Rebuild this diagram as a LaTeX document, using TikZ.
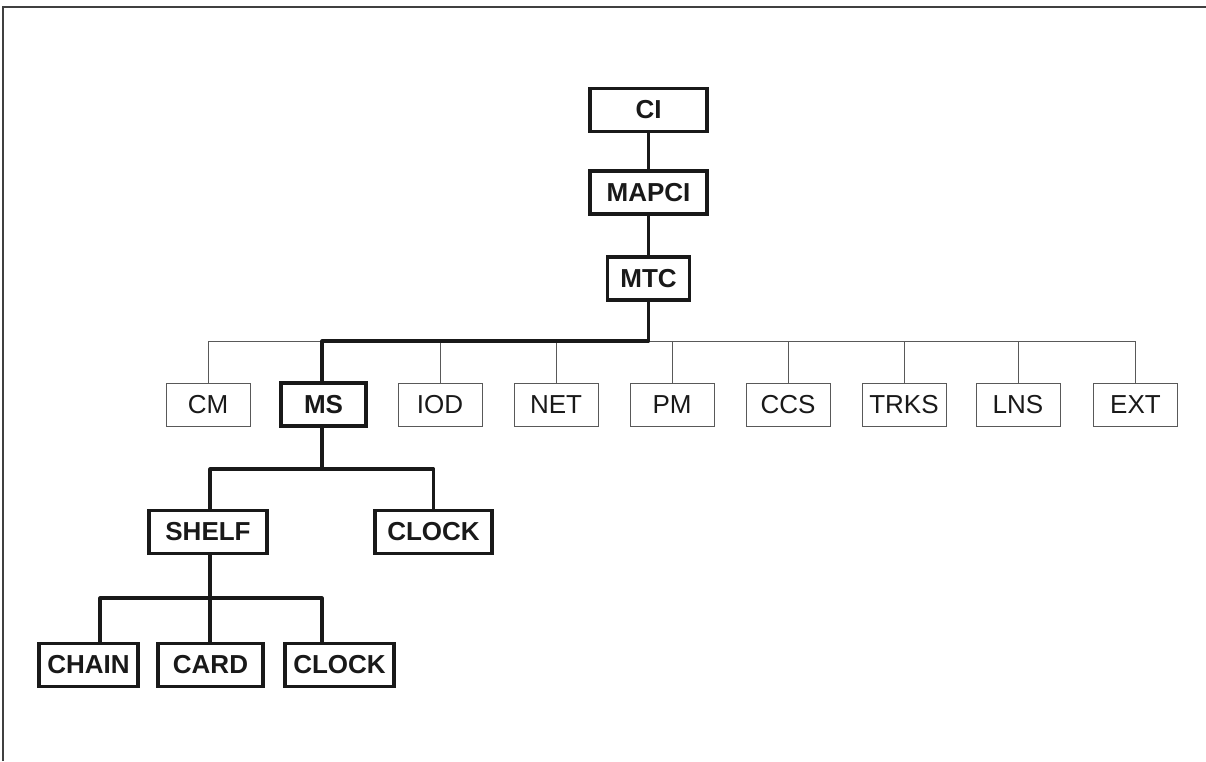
\documentclass[tikz,border=0pt]{standalone}
\usepackage{fontspec}
\setmainfont{Liberation Sans}
\begin{document}
\begin{tikzpicture}[x=0.75pt,y=-0.75pt,
  frameline/.style={draw=black!75,line width=1.1pt},
  heavybox/.style={draw=black!90,line width=2.4pt,rectangle,inner sep=0pt,
    minimum height=43*0.75pt,font=\fontsize{19.5}{20}\selectfont\bfseries,text=black!90},
  lightbox/.style={draw=black!65,line width=0.75pt,rectangle,inner sep=0pt,
    minimum width=84*0.75pt,minimum height=43*0.75pt,font=\fontsize{19.5}{20}\selectfont,text=black!90},
  heavyline/.style={draw=black!90,line width=2.4pt,line join=round},
  lightline/.style={draw=black!65,line width=0.75pt}]
\useasboundingbox (0,0) rectangle (1206,761);
% outer frame: top and left edges only
\draw[frameline] (3,761) -- (3,7) -- (1206,7);

% upper chain
\node[heavybox,minimum width=117*0.75pt] (ci) at (648.5,110) {CI};
\node[heavybox,minimum width=117*0.75pt] (mapci) at (648.5,192.5) {MAPCI};
\node[heavybox,minimum width=82*0.75pt] (mtc) at (648.5,278.5) {MTC};

% subsystem row
\node[lightbox] (cm)   at (208,404.5)  {CM};
\node[heavybox,minimum width=85*0.75pt] (ms) at (323.5,404.5) {MS};
\node[lightbox] (iod)  at (440,404.5)  {IOD};
\node[lightbox] (net)  at (556,404.5)  {NET};
\node[lightbox] (pm)   at (672,404.5)  {PM};
\node[lightbox] (ccs)  at (788,404.5)  {CCS};
\node[lightbox] (trks) at (904,404.5)  {TRKS};
\node[lightbox] (lns)  at (1018,404.5) {LNS};
\node[lightbox] (ext)  at (1135.5,404.5) {EXT};

% MS level
\node[heavybox,minimum width=118*0.75pt] (shelf)  at (208,532) {SHELF};
\node[heavybox,minimum width=117*0.75pt] (clocka) at (433.5,532) {CLOCK};

% SHELF level
\node[heavybox,minimum width=99*0.75pt]  (chain)  at (88.5,665) {CHAIN};
\node[heavybox,minimum width=105*0.75pt] (card)   at (210.5,665) {CARD};
\node[heavybox,minimum width=109*0.75pt] (clockb) at (339.5,665) {CLOCK};

% bus coordinates
\coordinate (bus) at (648.5,341);
\coordinate (msbus) at (322,469);
\coordinate (bl) at (100,598);
\coordinate (br) at (322,598);

% thin bus to the subsystems
\draw[lightline] (cm.north) -- (cm.north |- bus) -- (ext.north |- bus) -- (ext.north);
\foreach \n in {iod,net,pm,ccs,trks,lns}
  \draw[lightline] (\n.north) -- (\n.north |- bus);

% heavy path
\draw[heavyline] (ci) -- (mapci);
\draw[heavyline] (mapci) -- (mtc);
\draw[heavyline] (mtc.south) -- (mtc.south |- bus) -| (ms.north -| msbus);
\draw[heavyline] (ms.south -| msbus) -- (msbus);
\draw[heavyline] (shelf.north -| 210,0) -- (210,469) -- (clocka.north |- msbus) -- (clocka.north);
\draw[heavyline] (shelf.south -| 210,0) -- (210,598);
\draw[heavyline] (bl |- chain.north) -- (bl) -- (br) -- (br |- clockb.north);
\draw[heavyline] (card.north -| 210,0) -- (210,598);
\end{tikzpicture}
\end{document}
